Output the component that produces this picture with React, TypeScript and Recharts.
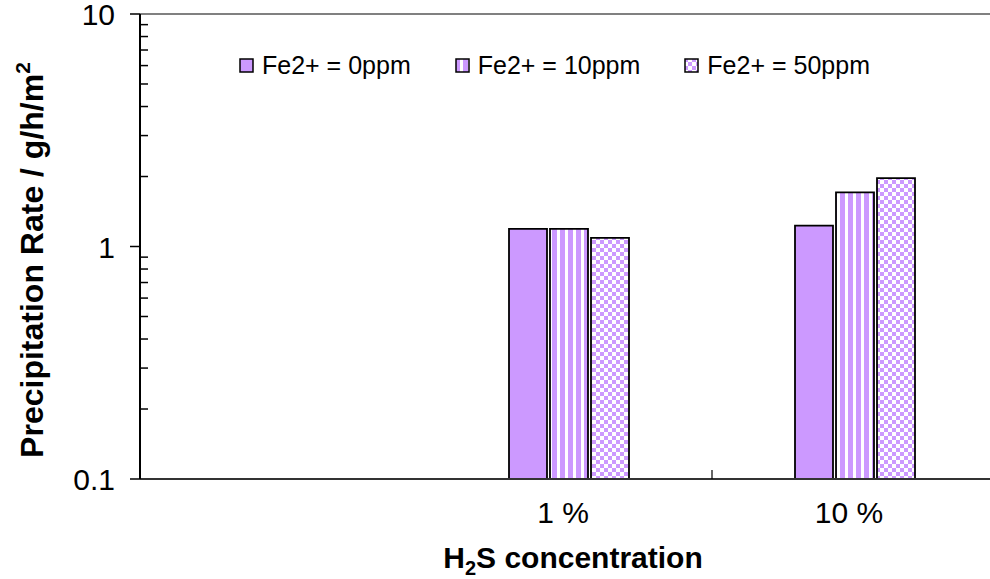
import { Bar, BarChart, Legend, ReferenceLine, XAxis, YAxis } from "recharts";

const categories = ["", "1 %", "10 %"];
const fe0ppm = [null, 1.19, 1.23];
const fe10ppm = [null, 1.19, 1.71];
const fe50ppm = [null, 1.09, 1.97];

const majorTicks = [0.1, 1, 10];
const yTicks = [
  0.1, 0.2, 0.3, 0.4, 0.5, 0.6, 0.7, 0.8, 0.9,
  1, 2, 3, 4, 5, 6, 7, 8, 9, 10,
];

const purple = "#CC99FF";
const font = "'Liberation Sans', Arial, sans-serif";

const data = categories.map((name, i) => ({
  name,
  fe0: fe0ppm[i],
  fe10: fe10ppm[i],
  fe50: fe50ppm[i],
}));

const legendItems = [
  { key: "fe0", label: "Fe2+ = 0ppm", fill: purple },
  { key: "fe10", label: "Fe2+ = 10ppm", fill: "url(#stripes)" },
  { key: "fe50", label: "Fe2+ = 50ppm", fill: "url(#checker)" },
];

const YTick = (props: any) => {
  const { x, y, payload } = props;
  const v = payload.value;
  const major = majorTicks.some((m) => Math.abs(m - v) < 1e-9);
  if (!major) {
    return <line x1={x} x2={x + 8} y1={y} y2={y} stroke="#000" strokeWidth={1.5} />;
  }
  return (
    <g>
      <line x1={x - 10} x2={x} y1={y} y2={y} stroke="#000" strokeWidth={1.5} />
      <text x={x - 25} y={y + 11} textAnchor="end" fontSize={30} fontFamily={font} fill="#000">
        {v}
      </text>
    </g>
  );
};

const XTick = (props: any) => {
  const { x, y, payload, index } = props;
  const band = 858 / categories.length;
  return (
    <g>
      {index === 1 && (
        <line x1={x + band / 2} x2={x + band / 2} y1={y - 9} y2={y} stroke="#000" strokeWidth={1.2} />
      )}
      <text x={x - 6} y={y + 44} textAnchor="middle" fontSize={30} fontFamily={font} fill="#000">
        {payload.value}
      </text>
    </g>
  );
};

const renderLegend = () => (
  <div style={{ display: "flex", alignItems: "center", fontFamily: font, fontSize: 25, color: "#000" }}>
    {legendItems.map((item) => (
      <div key={item.key} style={{ display: "flex", alignItems: "center", marginRight: 44 }}>
        <svg width={16} height={16} style={{ marginRight: 7 }}>
          <rect x={1} y={1} width={13} height={13} fill={item.fill} stroke="#000" strokeWidth={1.5} />
        </svg>
        <span>{item.label}</span>
      </div>
    ))}
  </div>
);

export default function App() {
  return (
    <div style={{ position: "absolute", left: 0, top: 0, width: 990, height: 579, overflow: "hidden", background: "#fff" }}>
      <BarChart
        width={998}
        height={579}
        data={data}
        margin={{ top: 14, right: 0, left: 0, bottom: 0 }}
        barSize={38}
        barGap={3}
      >
        <defs>
          <pattern id="stripes" width="8" height="8" patternUnits="userSpaceOnUse">
            <rect width="8" height="8" fill={purple} />
            <rect x="5" width="3" height="8" fill="#fff" />
          </pattern>
          <pattern id="checker" width="8" height="8" patternUnits="userSpaceOnUse">
            <rect width="8" height="8" fill="#fff" />
            <rect width="4" height="4" fill={purple} />
            <rect x="4" y="4" width="4" height="4" fill={purple} />
          </pattern>
        </defs>
        <ReferenceLine y={10} stroke="#808080" strokeWidth={2} />
        <XAxis
          dataKey="name"
          height={100}
          tickSize={0}
          tickMargin={0}
          interval={0}
          tick={<XTick />}
          axisLine={{ stroke: "#333", strokeWidth: 2 }}
          label={{
            content: () => (
              <text x={573} y={568} textAnchor="middle" fontSize={30} fontWeight="bold" fontFamily={font} fill="#000">
                H<tspan fontSize={20} dy={7}>2</tspan>
                <tspan dy={-7}>S concentration</tspan>
              </text>
            ),
          }}
        />
        <YAxis
          scale="log"
          domain={[0.1, 10]}
          allowDataOverflow
          ticks={yTicks}
          interval={0}
          width={140}
          tickSize={0}
          tickMargin={0}
          tick={<YTick />}
          axisLine={{ stroke: "#000", strokeWidth: 2 }}
          label={{
            content: () => (
              <text
                x={43}
                y={260}
                transform="rotate(-90, 43, 260)"
                textAnchor="middle"
                fontSize={32}
                fontWeight="bold"
                fontFamily={font}
                fill="#000"
              >
                Precipitation Rate / g/h/m<tspan fontSize={21} dy={-13}>2</tspan>
              </text>
            ),
          }}
        />
        <Legend
          layout="horizontal"
          verticalAlign="middle"
          align="center"
          wrapperStyle={{ top: 51, left: 239, width: "auto" }}
          content={renderLegend}
        />
        <Bar dataKey="fe0" name="Fe2+ = 0ppm" fill={purple} stroke="#000" strokeWidth={1.8} isAnimationActive={false} />
        <Bar dataKey="fe10" name="Fe2+ = 10ppm" fill="url(#stripes)" stroke="#000" strokeWidth={1.8} isAnimationActive={false} />
        <Bar dataKey="fe50" name="Fe2+ = 50ppm" fill="url(#checker)" stroke="#000" strokeWidth={1.8} isAnimationActive={false} />
      </BarChart>
    </div>
  );
}
